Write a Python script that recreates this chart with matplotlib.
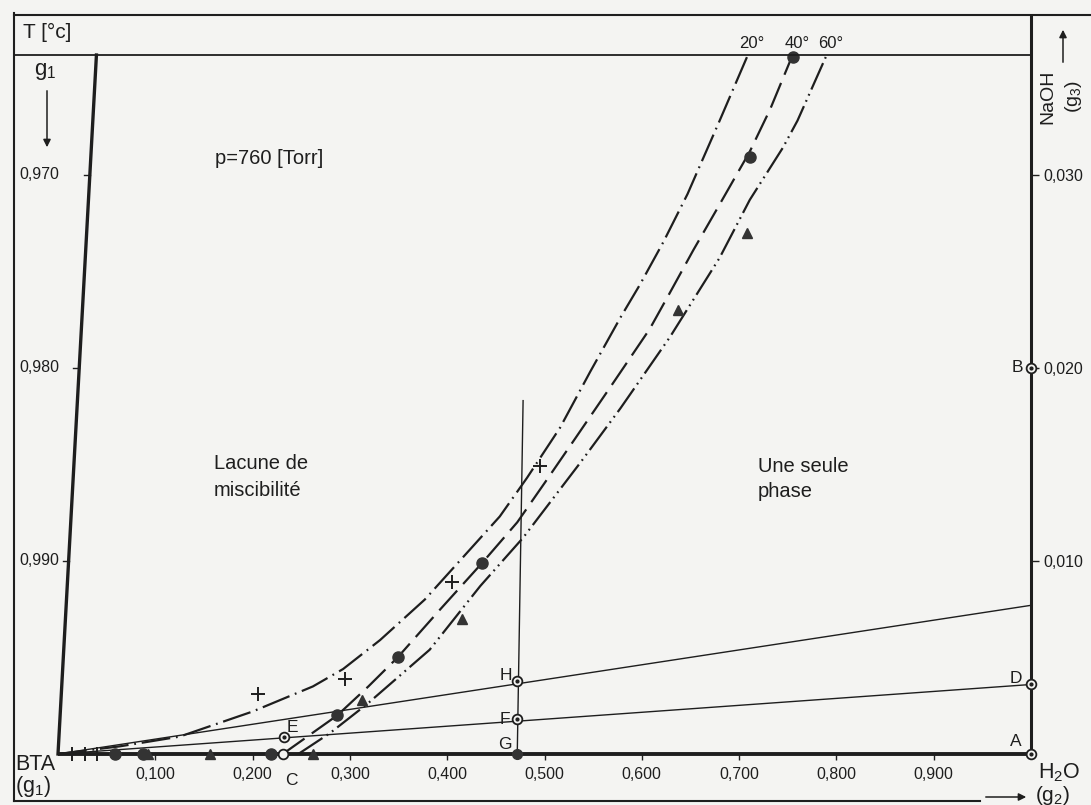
import matplotlib.pyplot as plt
from matplotlib.lines import Line2D
from matplotlib.patches import FancyArrowPatch

plt.rcParams['font.family'] = ['Liberation Sans', 'DejaVu Sans']
plt.rcParams['mathtext.default'] = 'regular'

# isothermes : g2 (H2O) en abscisse, g3 (NaOH) en ordonnee
iso20_g2 = [0, 0.064, 0.125, 0.200, 0.262, 0.293, 0.331, 0.377, 0.420, 0.454, 0.482,
            0.516, 0.547, 0.578, 0.598, 0.622, 0.647, 0.660, 0.680, 0.709]
iso20_g3 = [0, 0.0004, 0.0009, 0.0022, 0.0035, 0.0044, 0.0059, 0.0080, 0.0104, 0.0123, 0.0143,
            0.0169, 0.0198, 0.0226, 0.0243, 0.0265, 0.0290, 0.0305, 0.0328, 0.0362]

iso40_g2 = [0.231, 0.259, 0.287, 0.319, 0.349, 0.393, 0.436, 0.472, 0.501, 0.531, 0.569,
            0.608, 0.629, 0.653, 0.677, 0.711, 0.732, 0.755]
iso40_g3 = [0, 0.0010, 0.0020, 0.0035, 0.0050, 0.0075, 0.0099, 0.0120, 0.0141, 0.0163, 0.0191,
            0.0220, 0.0239, 0.0261, 0.0282, 0.0312, 0.0334, 0.0362]

iso60_g2 = [0.247, 0.280, 0.318, 0.382, 0.434, 0.478, 0.537, 0.578, 0.629, 0.680, 0.711,
            0.745, 0.760, 0.790]
iso60_g3 = [0, 0.0011, 0.0026, 0.0054, 0.0087, 0.0112, 0.0151, 0.0179, 0.0216, 0.0257, 0.0287,
            0.0314, 0.0328, 0.0362]

# points experimentaux
mes20_g2 = [0.014, 0.028, 0.040, 0.206, 0.295, 0.405, 0.495]
mes20_g3 = [0, 0, 0, 0.0031, 0.0039, 0.0089, 0.0149]
mes40_g2 = [0.059, 0.087, 0.219, 0.287, 0.349, 0.436, 0.711, 0.755]
mes40_g3 = [0, 0, 0, 0.0020, 0.0050, 0.0099, 0.0309, 0.0361]
mes60_g2 = [0.092, 0.156, 0.262, 0.312, 0.415, 0.637, 0.708]
mes60_g3 = [0, 0, 0, 0.0028, 0.0070, 0.0230, 0.0270]

# points repères
lettres = ['A', 'B', 'C', 'D', 'E', 'F', 'G', 'H']
lettres_g2 = [1.0, 1.0, 0.231, 1.0, 0.232, 0.472, 0.472, 0.472]
lettres_g3 = [0, 0.0200, 0, 0.0036, 0.0009, 0.0018, 0, 0.0038]

# droites issues de BTA et verticale G-H
droite_bas_g3 = 0.0036
droite_haut_g3 = 0.0077
verticale_g2 = [0.472, 0.478]
verticale_g3 = [0, 0.0183]

g2_ticks = [0.1, 0.2, 0.3, 0.4, 0.5, 0.6, 0.7, 0.8, 0.9]
g2_labels = ['0,100', '0,200', '0,300', '0,400', '0,500', '0,600', '0,700', '0,800', '0,900']
g3_ticks = [0.010, 0.020, 0.030]
g3_labels = ['0,010', '0,020', '0,030']
g1_labels = ['0,990', '0,980', '0,970']

W, H = 1091, 805
fond = '#f4f4f2'
encre = '#1e1e1e'
y_max = 0.0362

fig = plt.figure(figsize=(W / 100, H / 100), dpi=100, facecolor=fond)
ax = fig.add_axes([58 / W, 51 / H, 973 / W, 699 / H])
ax.set_facecolor('none')
ax.set_xlim(0, 1)
ax.set_ylim(0, y_max)
for s in ax.spines.values():
    s.set_visible(False)


def pos(x, y):
    return x / W, 1 - y / H


def trait(x0, y0, x1, y1, lw=1.5):
    fig.add_artist(Line2D([x0 / W, x1 / W], [1 - y0 / H, 1 - y1 / H], color=encre, lw=lw))


def fleche(x0, y0, x1, y1):
    fig.add_artist(FancyArrowPatch(pos(x0, y0), pos(x1, y1), transform=fig.transFigure,
                                   arrowstyle='-|>', mutation_scale=11, lw=1.1, color=encre))


# cadre
trait(14, 15, 1091, 15)
trait(14, 13, 14, 801)
trait(14, 55, 1031, 55, lw=1.3)
trait(14, 801, 980, 801)

# axes du diagramme
ax.plot([0, 1], [0, 0], color=encre, lw=2.8, clip_on=False, solid_capstyle='butt')
ax.plot([1, 1], [0, 0.0382], color=encre, lw=2.2, clip_on=False)
pente = 0.0395 / y_max
ax.plot([0, 0.0395], [0, y_max], color=encre, lw=2.4, clip_on=False)

ax.set_xticks(g2_ticks)
ax.set_xticklabels(g2_labels)
ax.tick_params(axis='x', direction='out', length=4, width=1, pad=5, labelsize=11.5,
               colors=encre)
ax.yaxis.tick_right()
ax.set_yticks(g3_ticks)
ax.set_yticklabels(g3_labels)
ax.tick_params(axis='y', direction='out', length=6, width=1, pad=3, labelsize=11.5,
               colors=encre)

# graduations g1 sur l'axe de gauche, libellés alignés contre le cadre
for y, lab in zip(g3_ticks, g1_labels):
    xl = pente * y
    ax.plot([xl - 0.006, xl], [y, y], color=encre, lw=1)
    ax.annotate(lab, xy=(0, y), xycoords=('figure fraction', 'data'),
                xytext=(19 / W, 0), textcoords=('figure fraction', 'offset points'),
                ha='left', va='center', fontsize=11.5, color=encre)

# droites fines
ax.plot([0, 1], [0, droite_bas_g3], color=encre, lw=1.0)
ax.plot([0, 1], [0, droite_haut_g3], color=encre, lw=1.0)
ax.plot(verticale_g2, verticale_g3, color=encre, lw=1.0)

# isothermes
ax.plot(iso20_g2, iso20_g3, color=encre, lw=1.6, dashes=(13, 2.6, 0.8, 2.6))
ax.plot(iso40_g2, iso40_g3, color=encre, lw=1.6, dashes=(12, 4))
ax.plot(iso60_g2, iso60_g3, color=encre, lw=1.6, dashes=(13, 2.2, 0.8, 2.2, 0.8, 2.2))

for g2, g3, lab in [(iso20_g2[-1], iso20_g3[-1], '20°'), (iso40_g2[-1], iso40_g3[-1], '40°'),
                    (iso60_g2[-1], iso60_g3[-1], '60°')]:
    ax.annotate(lab, (g2, g3), xytext=(3, 8), textcoords='offset points',
                ha='center', va='center', fontsize=12, color=encre)

# mesures
ax.plot(mes20_g2, mes20_g3, '+', ms=10, mew=1.4, color=encre, clip_on=False)
ax.plot(mes40_g2, mes40_g3, 'o', ms=8, color='#333333', clip_on=False)
ax.plot(mes60_g2, mes60_g3, '^', ms=7.5, color='#333333', clip_on=False)

# points repères
decalages = {'A': (-11, 9), 'B': (-9.5, 0), 'C': (6.5, -19), 'D': (-11, 4),
             'E': (6.5, 6.5), 'F': (-8.6, 0), 'G': (-8.6, 6.5), 'H': (-8, 3.5)}
for lab, g2, g3 in zip(lettres, lettres_g2, lettres_g3):
    if lab == 'G':
        ax.plot(g2, g3, 'o', ms=7, color='#333333', clip_on=False)
    else:
        ax.plot(g2, g3, 'o', ms=7, mfc=fond, mec=encre, mew=1.3, clip_on=False)
        if lab != 'C':
            ax.plot(g2, g3, 'o', ms=2, color=encre, clip_on=False)
    ax.annotate(lab, (g2, g3), xytext=decalages[lab], textcoords='offset points',
                ha='center', va='center', fontsize=12.5, color=encre)

# textes
fig.text(*pos(23, 32), 'T [°c]', fontsize=15, va='center', color=encre)
fig.text(*pos(45, 72), '$g_1$', fontsize=16, ha='center', va='center', color=encre)
fleche(47, 88, 47, 150)
fig.text(*pos(215, 159), 'p=760 [Torr]', fontsize=14.5, va='center', color=encre)
fig.text(*pos(214, 463), 'Lacune de', fontsize=14.5, va='center', color=encre)
fig.text(*pos(214, 490), 'miscibilité', fontsize=14.5, va='center', color=encre)
fig.text(*pos(758, 466), 'Une seule', fontsize=14.5, va='center', color=encre)
fig.text(*pos(758, 491), 'phase', fontsize=14.5, va='center', color=encre)
fig.text(*pos(15, 764), 'BTA', fontsize=15.5, va='center', color=encre)
fig.text(*pos(15, 786), '$(g_1)$', fontsize=15.5, va='center', color=encre)
fig.text(*pos(1038, 773), '$H_2O$', fontsize=15.5, va='center', color=encre)
fig.text(*pos(1035, 795), '$(g_2)$', fontsize=15, va='center', color=encre)
fleche(983, 797, 1029, 797)
fig.text(*pos(1048, 97), 'NaOH', fontsize=14, rotation=90, ha='center', va='center',
         color=encre)
fig.text(*pos(1073, 97), '$(g_3)$', fontsize=14, rotation=90, ha='center', va='center',
         color=encre)
fleche(1063, 65, 1063, 27)

fig.savefig('out.png', dpi=100, facecolor=fond)
